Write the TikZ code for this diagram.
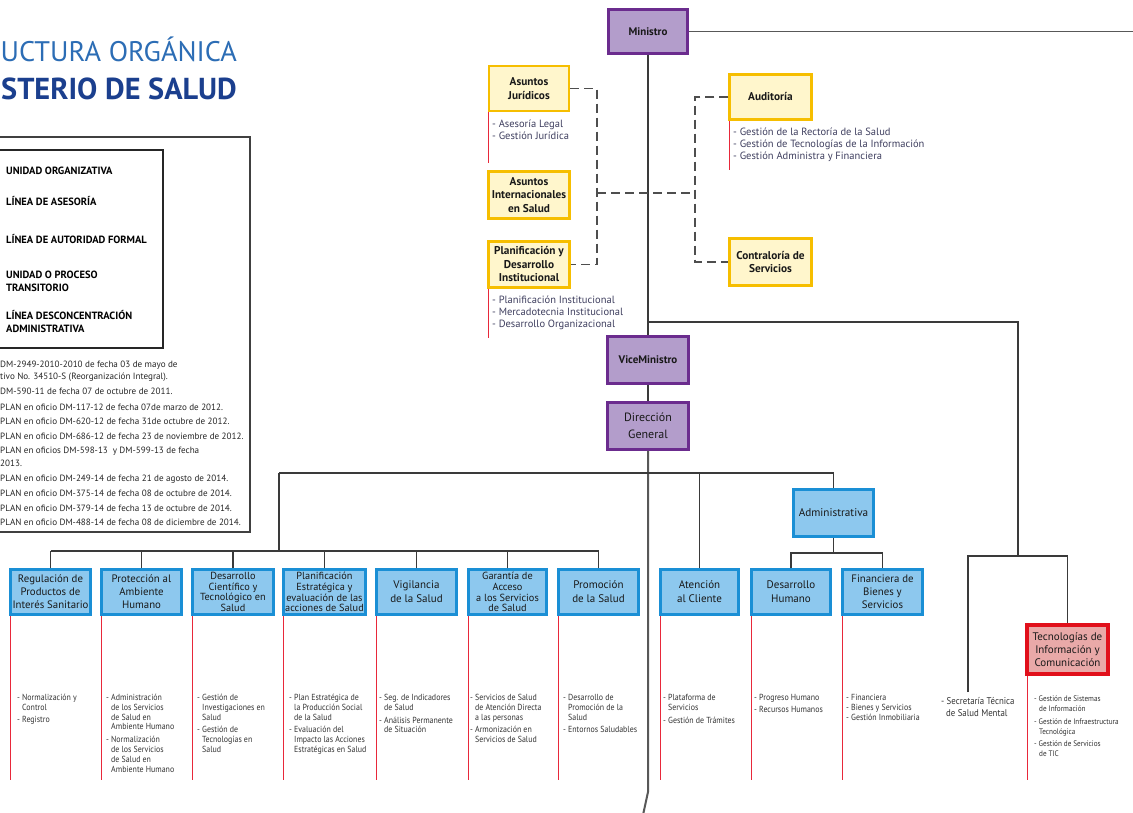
\documentclass[tikz,border=0pt]{standalone}
\usepackage{fontspec}
\setmainfont{PT Sans}
\newfontfamily\condf[FakeStretch=0.9]{PT Sans}
\usetikzlibrary{calc}
\definecolor{purfill}{HTML}{B39DCB}
\definecolor{purdraw}{HTML}{6B2C8E}
\definecolor{yelfill}{HTML}{FFF6CC}
\definecolor{yeldraw}{HTML}{F6BE00}
\definecolor{blufill}{HTML}{8DC8EE}
\definecolor{bludraw}{HTML}{1A8FD5}
\definecolor{ticfill}{HTML}{E9A9A8}
\definecolor{ticdraw}{HTML}{E1101B}
\definecolor{linec}{HTML}{3A3A3A}
\definecolor{redl}{HTML}{E8283A}
\definecolor{itemc}{HTML}{3F3F5F}
\definecolor{titleA}{HTML}{2C6DB5}
\definecolor{titleB}{HTML}{1B3F8E}
\newcommand\myind{\hspace*{5pt}}
\tikzset{
 unitbox/.style={rectangle, inner sep=0.5pt, align=center, text=black!90},
 purbox/.style={unitbox, fill=purfill, draw=purdraw, line width=2.5pt, minimum width=79pt, minimum height=44pt, font=\bfseries\fontsize{11}{13}\selectfont},
 yelbox/.style={unitbox, fill=yelfill, draw=yeldraw, line width=2.5pt, minimum width=80pt, minimum height=45pt, font=\bfseries\fontsize{11.3}{13.5}\selectfont},
 blubox/.style={unitbox, fill=blufill, draw=bludraw, line width=2.5pt, minimum width=80pt, minimum height=45pt, font=\fontsize{10.8}{13}\selectfont},
 blufour/.style={blubox, font=\fontsize{10.3}{10.8}\selectfont},
 ticbox/.style={unitbox, fill=ticfill, draw=ticdraw, line width=3.5pt, minimum width=81pt, minimum height=49pt, font=\fontsize{11}{13}\selectfont},
 conn/.style={draw=linec, line width=1.3pt},
 adv/.style={draw=linec!90, line width=1.5pt, dash pattern=on 9pt off 5pt},
 redln/.style={draw=redl, line width=1.3pt},
 itemsA/.style={anchor=north west, inner sep=0pt, align=left, text=itemc, font=\fontsize{10.5}{12}\selectfont},
 itemsB/.style={anchor=north west, inner sep=0pt, align=left, text=black!80, font=\condf\fontsize{8.8}{9.8}\selectfont},
 legtxt/.style={anchor=west, inner sep=0pt, font=\bfseries\fontsize{10.5}{13}\selectfont, align=left},
 notetxt/.style={anchor=west, inner sep=0pt, font=\fontsize{9.1}{12}\selectfont, text=black!85},
}
\begin{document}
\begin{tikzpicture}[x=1pt,y=-1pt]
\useasboundingbox (0,0) rectangle (1133,813);
\clip (0,0) rectangle (1133,813);
\fill[white] (0,0) rectangle (1133,813);

% title
\node[anchor=base east, inner sep=0pt, text=titleA, font=\fontsize{28.3}{30}\selectfont] (t1) at (237,62) {UCTURA ORGÁNICA};
\node[anchor=base east, inner sep=0pt, text=titleB, font=\bfseries\fontsize{30.3}{32}\selectfont] (t2) at (237,100) {STERIO DE SALUD};

% legend
\draw[draw=black!75, line width=1.5pt] (-5,137) rectangle (250,532);
\draw[draw=black!85, line width=1.5pt] (-5,150) rectangle (163,348);
\node[legtxt] (l1) at (6,171) {UNIDAD ORGANIZATIVA};
\node[legtxt] (l2) at (6,201) {LÍNEA DE ASESORÍA};
\node[legtxt] (l3) at (6,239) {LÍNEA DE AUTORIDAD FORMAL};
\node[legtxt] (l4) at (6,281) {UNIDAD O PROCESO\\TRANSITORIO};
\node[legtxt] (l5) at (6,322) {LÍNEA DESCONCENTRACIÓN\\ADMINISTRATIVA};

\node[notetxt] (n1) at (0,365) {DM-2949-2010-2010 de fecha 03 de mayo de};
\node[notetxt] (n2) at (0,377) {tivo No. 34510-S (Reorganización Integral).};
\node[notetxt] (n3) at (0,391) {DM-590-11 de fecha 07 de octubre de 2011.};
\node[notetxt] (n4) at (0,407) {PLAN en oficio DM-117-12 de fecha 07de marzo de 2012.};
\node[notetxt] (n5) at (0,421) {PLAN en oficio DM-620-12 de fecha 31de octubre de 2012.};
\node[notetxt] (n6) at (0,436) {PLAN en oficio DM-686-12 de fecha 23 de noviembre de 2012.};
\node[notetxt] (n7) at (0,451) {PLAN en oficios DM-598-13 \ y DM-599-13 de fecha};
\node[notetxt] (n8) at (0,463) {2013.};
\node[notetxt] (n9) at (0,479) {PLAN en oficio DM-249-14 de fecha 21 de agosto de 2014.};
\node[notetxt] (n10) at (0,493) {PLAN en oficio DM-375-14 de fecha 08 de octubre de 2014.};
\node[notetxt] (n11) at (0,508) {PLAN en oficio DM-379-14 de fecha 13 de octubre de 2014.};
\node[notetxt] (n12) at (0,522) {PLAN en oficio DM-488-14 de fecha 08 de diciembre de 2014.};

% coordinates
\coordinate (minR) at (1140,33);
\coordinate (j1) at (648,322);
\coordinate (tgtop) at (1018,556);
\coordinate (secTop) at (968,692);
\coordinate (mainB) at (648,792);
\coordinate (mainE) at (643,815);
\coordinate (jL) at (279,473);
\coordinate (bus2) at (0,551);
\coordinate (bus3) at (0,553);
\coordinate (redend) at (0,780);
\coordinate (dL) at (597,193);
\coordinate (dR) at (695,193);

% top nodes
\node[purbox] (min) at (648,31.5) {Ministro};
\node[yelbox] (aj) at (529,88.5) {Asuntos\\Jurídicos};
\node[yelbox, minimum width=81pt, minimum height=47pt] (ai) at (529,195) {Asuntos\\Internacionales\\en Salud};
\node[yelbox, minimum width=81pt, minimum height=46pt] (pdi) at (529,264.5) {Planificación y\\Desarrollo\\Institucional};
\node[yelbox, minimum width=82pt] (aud) at (770.5,97) {Auditoría};
\node[yelbox, minimum width=82pt, minimum height=47pt] (con) at (770.5,262) {Contraloría de\\Servicios};
\node[purbox, minimum width=81pt, minimum height=47pt] (vm) at (648,360) {ViceMinistro};
\node[purbox, minimum width=81pt, minimum height=47pt, font=\fontsize{12}{17}\selectfont] (dg) at (648,426) {Dirección\\General};
\node[blubox, minimum width=80pt, minimum height=47pt, font=\fontsize{11.2}{13}\selectfont] (adm) at (833.5,513) {Administrativa};

% row boxes
\node[blubox] (reg) at (50.5,592) {Regulación de\\Productos de\\Interés Sanitario};
\node[blubox] (pro) at (141.5,592) {Protección al\\Ambiente\\Humano};
\node[blufour, minimum width=81pt] (dcy) at (233,592) {Desarrollo\\Científico y\\Tecnológico en\\Salud};
\node[blufour, minimum width=82pt] (pes) at (324.5,592) {Planificación\\Estratégica y\\evaluación de las\\acciones de Salud};
\node[blubox, font=\fontsize{11}{14}\selectfont] (vig) at (416.5,592) {Vigilancia\\de la Salud};
\node[blufour, minimum width=78pt] (gar) at (507.5,592) {Garantía de\\Acceso\\a los Servicios\\de Salud};
\node[blubox, font=\fontsize{11}{14}\selectfont] (prm) at (598.5,592) {Promoción\\de la Salud};
\node[blubox, minimum width=78pt, font=\fontsize{11}{14}\selectfont] (ate) at (699.5,592) {Atención\\al Cliente};
\node[blubox, minimum width=79pt, font=\fontsize{11}{14}\selectfont] (dh) at (791,592) {Desarrollo\\Humano};
\node[blubox] (fin) at (882.5,592) {Financiera de\\Bienes y\\Servicios};
\node[ticbox] (tic) at (1067.5,649.5) {Tecnologías de\\Información y\\Comunicación};

% solid connectors
\draw[conn, line width=1.8pt, draw=linec!85] (min.east) -- (min.east -| minR);
\draw[conn] (min.south) -- (vm.north);
\draw[conn] (j1) -| (tgtop);
\draw[conn] (secTop) |- (tic.north |- tgtop) -- (tic.north);
\draw[conn] (vm.south) -- (dg.north);
\draw[conn, line width=2pt, draw=linec!85] (dg.south) -- (mainB) -- (mainE);
\draw[conn] (jL) -- (adm.north |- jL) -- (adm.north);
\draw[conn] (ate.north) -- (ate.north |- jL);
\draw[conn] (jL) -- (jL |- bus2);
\draw[conn] (reg.north |- bus2) -- (prm.north |- bus2);
\foreach \b in {reg,pro,dcy,pes,vig,gar,prm}
  \draw[conn] (\b.north) -- (\b.north |- bus2);
\draw[conn] (adm.south) -- (adm.south |- bus3);
\draw[conn] (dh.north) -- (dh.north |- bus3) -- (fin.north |- bus3) -- (fin.north);

% advisory dashed connectors
\draw[adv] (aj.east) -| (dL) |- (pdi.east);
\draw[adv] (dL) -- (dR);
\draw[adv] (aud.west) -| (dR) |- (con.west);

% red lines
\draw[redln] ([xshift=1pt]aj.south west) -- ++(0,51);
\draw[redln] ([xshift=1pt]pdi.south west) -- ++(0,49);
\draw[redln] ([xshift=1pt]aud.south west) -- ++(0,49);
\foreach \b in {reg,pro,dcy,pes,vig,gar,prm,ate,dh,fin}
  \draw[redln] ([xshift=1.5pt]\b.south west) -- ([xshift=1.5pt]\b.south west |- redend);
\draw[redln] ([xshift=2pt]tic.south west) -- ([xshift=2pt]tic.south west |- redend);

% items top
\node[itemsA] (iaj) at (492,120) {- Asesoría Legal\\- Gestión Jurídica};
\node[itemsA] (ipdi) at (492,296) {- Planificación Institucional\\- Mercadotecnia Institucional\\- Desarrollo Organizacional};
\node[itemsA] (iaud) at (733,128) {- Gestión de la Rectoría de la Salud\\- Gestión de Tecnologías de la Información\\- Gestión Administra y Financiera};

% items bottom
\node[itemsB] (ireg) at (17,694) {- Normalización y\\\myind Control\\[2pt]- Registro};
\node[itemsB] (ipro) at (106,694) {- Administración\\\myind de los Servicios\\\myind de Salud en\\\myind Ambiente Humano\\[3pt]- Normalización\\\myind de los Servicios\\\myind de Salud en\\\myind Ambiente Humano};
\node[itemsB] (idcy) at (197,694) {- Gestión de\\\myind Investigaciones en\\\myind Salud\\[3pt]- Gestión de\\\myind Tecnologías en\\\myind Salud};
\node[itemsB] (ipes) at (289,694) {- Plan Estratégica de\\\myind la Producción Social\\\myind de la Salud\\[3pt]- Evaluación del\\\myind Impacto las Acciones\\\myind Estratégicas en Salud};
\node[itemsB] (ivig) at (379,694) {- Seg. de Indicadores\\\myind de Salud\\[3pt]- Análisis Permanente\\\myind de Situación};
\node[itemsB] (igar) at (470,694) {- Servicios de Salud\\\myind de Atención Directa\\\myind a las personas\\[3pt]- Armonización en\\\myind Servicios de Salud};
\node[itemsB] (iprm) at (563,694) {- Desarrollo de\\\myind Promoción de la\\\myind Salud\\[3pt]- Entornos Saludables};
\node[itemsB] (iate) at (663,694) {- Plataforma de\\\myind Servicios\\[3pt]- Gestión de Trámites};
\node[itemsB] (idh) at (754,694) {- Progreso Humano\\[2pt]- Recursos Humanos};
\node[itemsB] (ifin) at (846,694) {- Financiera\\- Bienes y Servicios\\- Gestión Inmobiliaria};
\node[itemsB, font=\condf\fontsize{9.8}{12}\selectfont] (isec) at (941,697) {- Secretaría Técnica\\\myind de Salud Mental};
\node[itemsB, font=\condf\fontsize{8}{9.7}\selectfont] (itic) at (1034,696) {- Gestión de Sistemas\\\myind de Información\\[3pt]- Gestión de Infraestructura\\\myind Tecnológica\\[3pt]- Gestión de Servicios\\\myind de TIC};
\end{tikzpicture}
\end{document}
